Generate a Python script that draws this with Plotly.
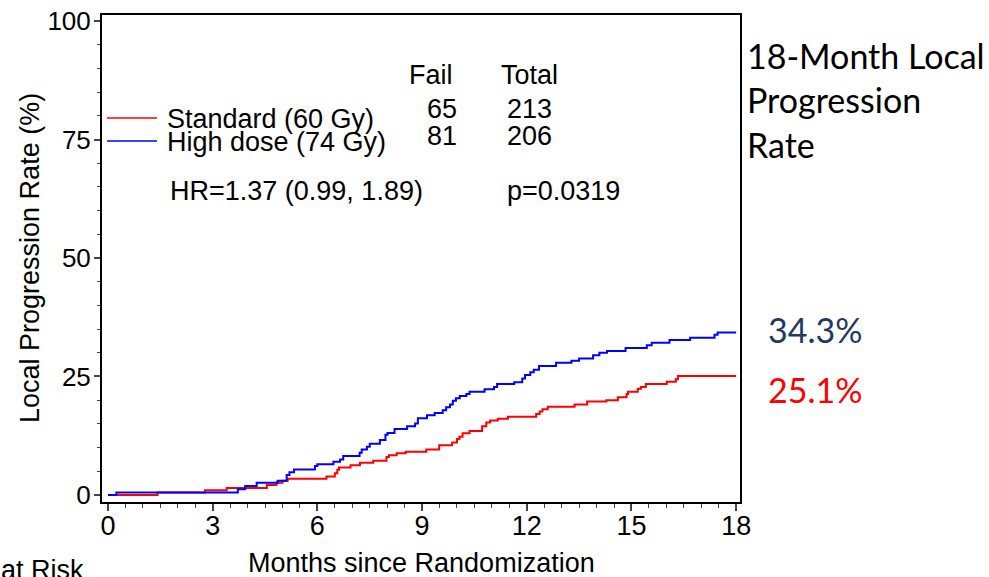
import plotly.graph_objects as go

# ---------------- data ----------------
std_months = [0, 1.42, 2.78, 3.40, 4.55, 4.83, 5.00, 5.15, 6.26, 6.50, 6.57, 6.62, 6.95, 7.22,
              7.60, 7.98, 8.05, 8.27, 8.53, 9.12, 9.49, 9.86, 10.00, 10.07, 10.16, 10.36,
              10.72, 10.84, 10.95, 11.17, 11.46, 12.27, 12.37, 12.45, 12.60, 13.37, 13.73,
              14.28, 14.61, 14.86, 14.90, 15.18, 15.27, 15.41, 16.01, 16.27, 16.33, 18.0]
std_rate = [0, 0.5, 1.0, 1.5, 2.1, 2.6, 3.0, 3.4, 3.9, 4.6, 5.3, 5.8, 6.3, 6.8,
            7.2, 8.0, 8.4, 8.8, 9.1, 9.6, 10.5, 11.1, 11.8, 12.3, 13.0, 13.5,
            14.5, 15.3, 15.7, 16.1, 16.5, 17.1, 17.6, 18.1, 18.6, 19.1, 19.7,
            20.0, 20.6, 21.3, 21.8, 22.4, 22.8, 23.4, 23.9, 24.4, 25.1, 25.1]

high_months = [0, 0.24, 3.72, 3.93, 4.26, 4.86, 5.12, 5.20, 5.33, 5.93, 6.00, 6.46, 6.65, 6.74,
               7.21, 7.27, 7.42, 7.50, 7.79, 7.95, 8.01, 8.21, 8.57, 8.80, 8.88, 9.14, 9.36,
               9.59, 9.69, 9.80, 9.88, 9.97, 10.08, 10.27, 10.36, 10.79, 11.06, 11.15, 11.64,
               11.87, 11.95, 12.10, 12.20, 12.35, 12.84, 13.28, 13.50, 13.90, 14.08, 14.30,
               14.83, 15.44, 15.58, 16.09, 16.68, 17.38, 17.47, 18.0]
high_rate = [0, 0.5, 1.2, 1.9, 2.6, 3.0, 4.2, 4.8, 5.4, 6.1, 6.5, 7.0, 7.5, 8.2,
             8.9, 9.6, 10.2, 10.8, 11.6, 12.7, 13.1, 13.9, 14.5, 15.1, 16.2, 16.8, 17.3,
             17.9, 18.5, 19.1, 19.9, 20.4, 20.9, 21.3, 21.8, 22.3, 22.8, 23.4, 23.8,
             24.6, 25.3, 25.9, 26.4, 27.2, 27.9, 28.3, 28.8, 29.5, 30.0, 30.4,
             31.0, 31.6, 32.1, 32.7, 33.2, 33.8, 34.3, 34.3]

x_ticks = [0, 3, 6, 9, 12, 15, 18]
y_ticks = [0, 25, 50, 75, 100]

group_names = ["Standard (60 Gy)", "High dose (74 Gy)"]
group_colors = ["#FF0000", "#0000FF"]
fail_counts = ["65", "81"]
total_counts = ["213", "206"]
hr_text = "HR=1.37 (0.99, 1.89)"
p_text = "p=0.0319"
x_title = "Months since Randomization"
y_title = "Local Progression Rate (%)"
side_title = ["18-Month Local", "Progression", "Rate"]
side_values = ["34.3%", "25.1%"]
side_colors = ["#1F3864", "#FF0000"]

# ---------------- layout geometry ----------------
W, H = 989, 577
L, R, T, B = 102, 740, 15, 502   # plot area in pixels


def px(xp):
    return (xp - L) / (R - L)


def py(yp):
    return (B - yp) / (B - T)


ARIAL = "Liberation Sans, Arial, sans-serif"
SIDE = "Lato, Open Sans, sans-serif"

fig = go.Figure()
fig.add_trace(go.Scatter(x=std_months, y=std_rate, mode="lines", line_shape="hv",
                         line=dict(color=group_colors[0], width=2), name=group_names[0],
                         showlegend=False))
fig.add_trace(go.Scatter(x=high_months, y=high_rate, mode="lines", line_shape="hv",
                         line=dict(color=group_colors[1], width=2), name=group_names[1],
                         showlegend=False))

ann = []
# legend text and sample lines
leg_y = [119, 142]
shapes = []
for i in range(2):
    shapes.append(dict(type="line", xref="paper", yref="paper",
                       x0=px(107), x1=px(157), y0=py(leg_y[i] - 1), y1=py(leg_y[i] - 1),
                       line=dict(color=group_colors[i], width=1.5)))
    ann.append(dict(text=group_names[i], x=px(165), y=py(leg_y[i]), xanchor="left",
                    yanchor="middle"))
# table
ann.append(dict(text="Fail", x=px(431), y=py(75), xanchor="center", yanchor="middle"))
ann.append(dict(text="Total", x=px(529), y=py(75), xanchor="center", yanchor="middle"))
row_y = [109, 136]
for i in range(2):
    ann.append(dict(text=fail_counts[i], x=px(442), y=py(row_y[i]), xanchor="center",
                    yanchor="middle"))
    ann.append(dict(text=total_counts[i], x=px(529), y=py(row_y[i]), xanchor="center",
                    yanchor="middle"))
ann.append(dict(text=hr_text, x=px(168), y=py(191), xanchor="left", yanchor="middle"))
ann.append(dict(text=p_text, x=px(505), y=py(191), xanchor="left", yanchor="middle"))
ann.append(dict(text="at Risk", x=px(-1), y=py(553), xanchor="left", yanchor="top"))
# axis titles
ann.append(dict(text=x_title, x=px(421), y=py(563), xanchor="center", yanchor="middle"))
ann.append(dict(text=y_title, x=px(30), y=py(258), xanchor="center", yanchor="middle",
                textangle=-90))
for a in ann:
    a.update(xref="paper", yref="paper", showarrow=False,
             font=dict(family=ARIAL, size=27, color="black"))

side = []
side_y = [56, 99, 144]
for i, t in enumerate(side_title):
    side.append(dict(text=t, x=px(745), y=py(side_y[i]), xanchor="left", yanchor="middle",
                     font=dict(family=SIDE, size=34, color="black")))
val_y = [329, 389]
for i, t in enumerate(side_values):
    side.append(dict(text=t, x=px(766), y=py(val_y[i]), xanchor="left", yanchor="middle",
                     font=dict(family=SIDE, size=34, color=side_colors[i])))
for a in side:
    a.update(xref="paper", yref="paper", showarrow=False)

fig.update_layout(
    template="none",
    width=W, height=H,
    margin=dict(l=L, r=W - R, t=T, b=H - B, pad=0),
    paper_bgcolor="white", plot_bgcolor="white",
    annotations=ann + side,
    shapes=shapes,
    showlegend=False,
    xaxis=dict(range=[-0.172, 18.11], tickvals=x_ticks, ticktext=[str(v) for v in x_ticks],
               automargin=False, ticklabelstandoff=-8,
               ticks="outside", ticklen=7, tickwidth=1.5, tickcolor="#444",
               minor=dict(dtick=0.5, tick0=0, ticks="outside", ticklen=4, tickwidth=1.2,
                          tickcolor="#444", showgrid=False),
               showline=True, linecolor="black", linewidth=2, mirror=True,
               showgrid=False, zeroline=False,
               tickfont=dict(family=ARIAL, size=27, color="black")),
    yaxis=dict(range=[-1.48, 101.27], tickvals=y_ticks, ticktext=[str(v) for v in y_ticks],
               automargin=False, ticklabelstandoff=-2,
               ticks="outside", ticklen=6, tickwidth=1.5, tickcolor="#444",
               minor=dict(dtick=5, tick0=0, ticks="outside", ticklen=3, tickwidth=1.2,
                          tickcolor="#444", showgrid=False),
               showline=True, linecolor="black", linewidth=2, mirror=True,
               showgrid=False, zeroline=False,
               tickfont=dict(family=ARIAL, size=26, color="black")),
)

fig.write_html("out.html")
